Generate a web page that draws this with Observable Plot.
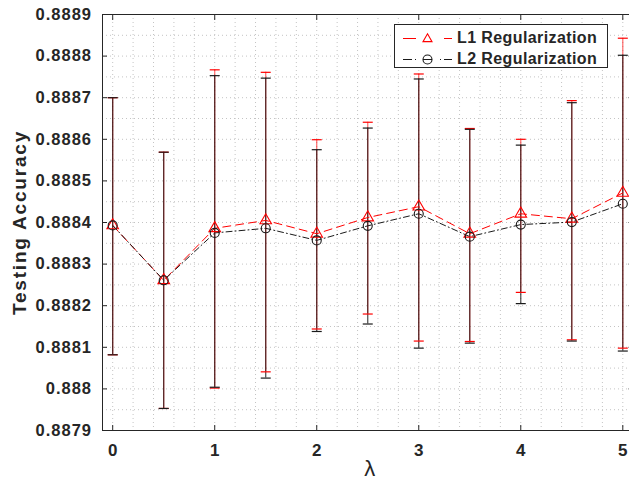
<!DOCTYPE html>
<html>
<head>
<meta charset="utf-8">
<script src="https://cdn.jsdelivr.net/npm/d3@7"></script>
<script src="https://cdn.jsdelivr.net/npm/@observablehq/plot@0.6"></script>
<style>
  body { margin: 0; background: #fff; }
  #wrap { position: relative; width: 629px; height: 480px; overflow: hidden; font-family: "Liberation Sans", Arial, sans-serif; color: #262626; }
  g[aria-label="y-axis tick label"] { letter-spacing: 1px; }
  #legend { position: absolute; left: 394px; top: 24px; width: 214px; height: 44px; border: 1px solid #262626; background: #fff; box-sizing: border-box; }
  .lrow { position: absolute; left: 0; height: 20px; width: 212px; }
  .lrow svg { position: absolute; left: 8px; top: 0; }
  .lrow span { position: absolute; left: 62px; top: 0; line-height: 20px; font-size: 16px; font-weight: bold; letter-spacing: 0.4px; white-space: nowrap; }
</style>
</head>
<body>
<div id="wrap"></div>
<script>
// ---- data ----
const lambda = [0, 0.5, 1, 1.5, 2, 2.5, 3, 3.5, 4, 4.5, 5];
const l1Mean = [0.888393, 0.888261, 0.888386, 0.888405, 0.888373, 0.888412, 0.888438, 0.888373, 0.888421, 0.888409, 0.888471];
const l1Hi   = [0.888700, 0.888569, 0.888767, 0.888761, 0.888599, 0.888641, 0.888757, 0.888626, 0.888600, 0.888693, 0.888843];
const l1Lo   = [0.888082, 0.887953, 0.888002, 0.888041, 0.888144, 0.888180, 0.888115, 0.888114, 0.888232, 0.888118, 0.888098];
const l2Mean = [0.888393, 0.888261, 0.888375, 0.888386, 0.888357, 0.888392, 0.888421, 0.888366, 0.888395, 0.888401, 0.888445];
const l2Hi   = [0.888700, 0.888569, 0.888753, 0.888747, 0.888575, 0.888627, 0.888745, 0.888624, 0.888586, 0.888688, 0.888802];
const l2Lo   = [0.888082, 0.887953, 0.888004, 0.888026, 0.888138, 0.888156, 0.888098, 0.888110, 0.888205, 0.888115, 0.888091];

const xTicks = [0, 1, 2, 3, 4, 5];
const xTickLabels = ["0", "1", "2", "3", "4", "5"];
const xGridTicks = [0, 0.2, 0.4, 0.6, 0.8, 1, 1.2, 1.4, 1.6, 1.8, 2, 2.2, 2.4, 2.6, 2.8, 3, 3.2, 3.4, 3.6, 3.8, 4, 4.2, 4.4, 4.6, 4.8, 5];
const yTicks = [0.8879, 0.888, 0.8881, 0.8882, 0.8883, 0.8884, 0.8885, 0.8886, 0.8887, 0.8888, 0.8889];
const yTickLabels = ["0.8879", "0.888", "0.8881", "0.8882", "0.8883", "0.8884", "0.8885", "0.8886", "0.8887", "0.8888", "0.8889"];
const yGridTicks = [0.8879, 0.88795, 0.888, 0.88805, 0.8881, 0.88815, 0.8882, 0.88825, 0.8883, 0.88835, 0.8884, 0.88845, 0.8885, 0.88855, 0.8886, 0.88865, 0.8887, 0.88875, 0.8888, 0.88885, 0.8889];
const seriesNames = ["L1 Regularization", "L2 Regularization"];
const xLabel = "λ";
const yLabel = "Testing Accuracy";

// ---- tables ----
const t1 = lambda.map((x, i) => ({x, y: l1Mean[i], lo: l1Lo[i], hi: l1Hi[i]}));
const t2 = lambda.map((x, i) => ({x, y: l2Mean[i], lo: l2Lo[i], hi: l2Hi[i]}));

const capSymbol = { draw(ctx) { ctx.moveTo(-5, 0); ctx.lineTo(5, 0); } };
const ink = "#262626";
const grid = {stroke: "#c4c4c4", strokeOpacity: 1, strokeDasharray: "1,3"};

const chart = Plot.plot({
  width: 629,
  height: 480,
  marginTop: 14,
  marginBottom: 50,
  marginLeft: 102,
  marginRight: -3.5,
  style: {fontFamily: '"Liberation Sans", Arial, sans-serif', color: ink, background: "white", overflow: "visible"},
  x: {domain: [-0.1, 5.1], label: null},
  y: {domain: [0.8879, 0.8889], label: null},
  marks: [
    Plot.gridX(xGridTicks, grid),
    Plot.gridY(yGridTicks, grid),
    // error bars
    Plot.ruleX(t1, {x: "x", y1: "lo", y2: "hi", stroke: "#ff0000", strokeOpacity: 0.6, strokeWidth: 1.2}),
    Plot.ruleX(t2, {x: "x", y1: "lo", y2: "hi", stroke: "#000000", strokeOpacity: 0.72, strokeWidth: 1.2}),
    Plot.dot(t1, {x: "x", y: "hi", symbol: capSymbol, stroke: "#ff0000", strokeWidth: 1.2}),
    Plot.dot(t1, {x: "x", y: "lo", symbol: capSymbol, stroke: "#ff0000", strokeWidth: 1.2}),
    Plot.dot(t2, {x: "x", y: "hi", symbol: capSymbol, stroke: "#1a1a1a", strokeWidth: 1.2}),
    Plot.dot(t2, {x: "x", y: "lo", symbol: capSymbol, stroke: "#1a1a1a", strokeWidth: 1.2}),
    // lines
    Plot.line(t1, {x: "x", y: "y", stroke: "#ff0000", strokeWidth: 1, strokeDasharray: "8,5"}),
    Plot.line(t2, {x: "x", y: "y", stroke: "#1a1a1a", strokeWidth: 1, strokeDasharray: "6,3,1,3"}),
    Plot.dot(t1, {x: "x", y: "y", symbol: "triangle", r: 4.3, stroke: "#ff0000", fill: "none", strokeWidth: 1.1}),
    Plot.dot(t2, {x: "x", y: "y", symbol: "circle", r: 4.5, stroke: "#1a1a1a", fill: "none", strokeWidth: 1.1}),
    Plot.frame({stroke: ink, strokeWidth: 1}),
    // axes
    Plot.axisX({anchor: "bottom", ticks: xTicks, tickSize: -5, tickPadding: 18, tickFormat: (d) => xTickLabels[xTicks.indexOf(d)], fontSize: 17, fontWeight: "bold", label: null, stroke: ink}),
    Plot.axisX({anchor: "top", ticks: xTicks, tickSize: -5, tickFormat: () => "", label: null, stroke: ink}),
    Plot.axisY({anchor: "left", ticks: yTicks, tickSize: -5, tickPadding: 15.5, tickFormat: (d) => yTickLabels[yTicks.indexOf(d)], fontSize: 16.5, fontWeight: "bold", label: null, stroke: ink}),
    Plot.axisY({anchor: "right", ticks: yTicks, tickSize: -5, tickFormat: () => "", label: null, stroke: ink}),
    // axis titles
    Plot.text([yLabel], {frameAnchor: "left", dx: -83, rotate: -90, text: (d) => d, fontSize: 19, fontWeight: "bold", fill: ink, lineAnchor: "middle", textAnchor: "middle"}),
    Plot.text([xLabel], {frameAnchor: "bottom", dy: 38, dx: 2, text: (d) => d, fontSize: 22, fill: ink, lineAnchor: "middle", textAnchor: "middle"})
  ]
});

const wrap = document.getElementById("wrap");
wrap.appendChild(chart);
chart.querySelectorAll('g[aria-label="text"] text').forEach(t => { if (t.textContent === yLabel) t.style.letterSpacing = "1.8px"; });

// legend
const legend = document.createElement("div");
legend.id = "legend";
const svgNS = "http://www.w3.org/2000/svg";
const rowsSpec = [
  {name: seriesNames[0], top: 3, color: "#ff0000", kind: "tri"},
  {name: seriesNames[1], top: 23.5, color: "#1a1a1a", kind: "circ"}
];
rowsSpec.forEach(r => {
  const row = document.createElement("div");
  row.className = "lrow";
  row.style.top = r.top + "px";
  const s = document.createElementNS(svgNS, "svg");
  s.setAttribute("width", "52"); s.setAttribute("height", "20");
  if (r.kind === "tri") {
    s.innerHTML = `<line x1="0" y1="10.5" x2="13" y2="10.5" stroke="${r.color}" stroke-width="1"/>` +
      `<line x1="41" y1="10.5" x2="49" y2="10.5" stroke="${r.color}" stroke-width="1"/>` +
      `<path transform="translate(24.5,11)" d="${d3.symbol(d3.symbolTriangle2, Math.PI * 4.3 * 4.3)()}" fill="none" stroke="${r.color}" stroke-width="1.1"/>`;
  } else {
    s.innerHTML = `<line x1="0" y1="10.5" x2="49" y2="10.5" stroke="${r.color}" stroke-width="1" stroke-dasharray="9,3,1,24,1,3,9"/>` +
      `<circle cx="24.5" cy="10.5" r="4.5" fill="none" stroke="${r.color}" stroke-width="1.1"/>` +
      `<line x1="20" y1="10.5" x2="29" y2="10.5" stroke="${r.color}" stroke-width="1"/>`;
  }
  row.appendChild(s);
  const sp = document.createElement("span");
  sp.textContent = r.name;
  row.appendChild(sp);
  legend.appendChild(row);
});
wrap.appendChild(legend);
</script>
</body>
</html>
